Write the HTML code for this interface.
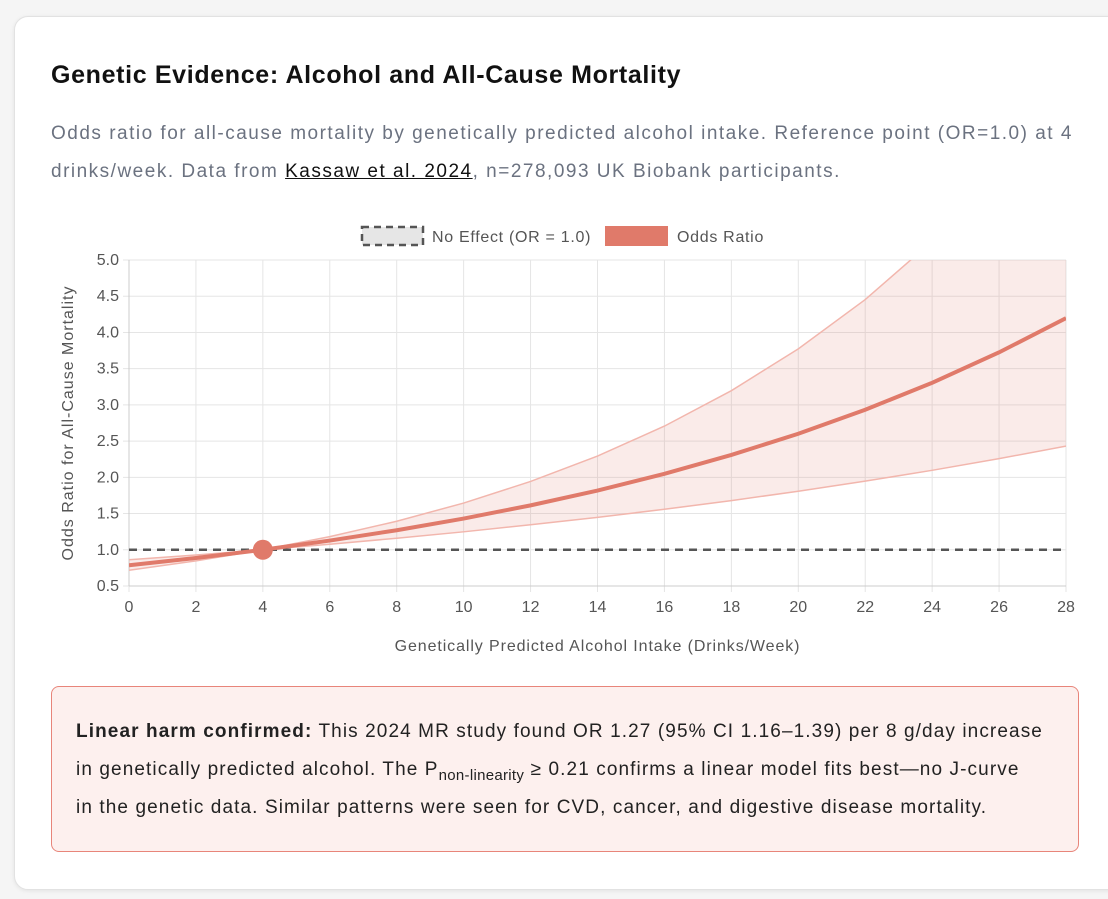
<!DOCTYPE html>
<html><head><meta charset="utf-8"><style>
body{margin:0;width:1108px;height:899px;background:#f5f5f5;font-family:"Liberation Sans",sans-serif;overflow:hidden;position:relative}
.card{position:absolute;left:14px;top:16px;width:1120px;height:872px;background:#fff;border:1px solid #e2e2e2;border-radius:14px;box-shadow:0 1px 4px rgba(0,0,0,.08)}
h1{position:absolute;left:51px;top:61px;margin:0;font-size:25px;letter-spacing:0.65px;font-weight:bold;color:#111;white-space:nowrap}
.sub{position:absolute;left:51px;top:115px;width:1040px;margin:0;font-size:19px;letter-spacing:1.5px;line-height:38px;color:#6b7280;white-space:nowrap}
.sub a{color:#111;text-decoration:underline}
.callout{position:absolute;left:51px;top:686px;width:1028px;height:166px;box-sizing:border-box;background:#fdf0ee;border:1px solid #e8857a;border-radius:8px;padding:26px 24px;font-size:19px;letter-spacing:1.1px;line-height:38px;color:#222;white-space:nowrap}
.callout sub{font-size:15px;line-height:0;letter-spacing:0.3px}
svg{position:absolute;left:0;top:0}
</style></head><body>
<div class="card"></div>
<h1>Genetic Evidence: Alcohol and All-Cause Mortality</h1>
<p class="sub">Odds ratio for all-cause mortality by genetically predicted alcohol intake. Reference point (OR=1.0) at 4<br>drinks/week. Data from <a>Kassaw et al. 2024</a>, n=278,093 UK Biobank participants.</p>
<svg id="chart" width="1108" height="680"></svg>
<div class="callout"><b>Linear harm confirmed:</b> This 2024 MR study found OR 1.27 (95% CI 1.16–1.39) per 8 g/day increase<br>in genetically predicted alcohol. The P<sub>non-linearity</sub> ≥ 0.21 confirms a linear model fits best—no J-curve<br>in the genetic data. Similar patterns were seen for CVD, cancer, and digestive disease mortality.</div>
<script>
const xs=[0,2,4,6,8,10,12,14,16,18,20,22,24,26,28];
const orMain=[0.787,0.887,1,1.127,1.270,1.431,1.613,1.818,2.049,2.309,2.602,2.933,3.305,3.725,4.198];
const orUpper=[0.862,0.928,1,1.181,1.394,1.645,1.943,2.293,2.707,3.196,3.773,4.454,5.258,6.21,7.33];
const orLower=[0.718,0.847,1,1.077,1.159,1.248,1.345,1.448,1.559,1.679,1.808,1.947,2.097,2.258,2.431];
const xTicks=[0,2,4,6,8,10,12,14,16,18,20,22,24,26,28];
const yTicks=[0.5,1.0,1.5,2.0,2.5,3.0,3.5,4.0,4.5,5.0];
const refX=4, refY=1.0;
const L=129,R=1066,T=260,B=586;
const X=v=>L+(v-0)/28*(R-L);
const Y=v=>B-(v-0.5)/4.5*(B-T);
const svg=document.getElementById('chart');
const NS='http://www.w3.org/2000/svg';
function mk(t,a,p){const e=document.createElementNS(NS,t);for(const k in a)e.setAttribute(k,a[k]);(p||svg).appendChild(e);return e;}
const defs=mk('defs',{});const cp=mk('clipPath',{id:'c'},defs);mk('rect',{x:L,y:T,width:R-L,height:B-T},cp);
xTicks.forEach(t=>{const l=mk('line',{x1:X(t),x2:X(t),y1:T,y2:B+6,stroke:'#e5e5e5'});


const tx=mk('text',{x:X(t),y:B+26,'text-anchor':'middle','font-size':16,fill:'#555'});tx.textContent=t;

});
yTicks.forEach(t=>{const l=mk('line',{x1:L-6,x2:R,y1:Y(t),y2:Y(t),stroke:'#e5e5e5'});


const tx=mk('text',{x:L-10,y:Y(t)+5,'text-anchor':'end','font-size':16,fill:'#555'});tx.textContent=t.toFixed(1);

});
mk('line',{x1:L,x2:L,y1:T,y2:B,stroke:'#ccc'});mk('line',{x1:L,x2:R,y1:B,y2:B,stroke:'#ccc'});
const g=mk('g',{'clip-path':'url(#c)'});
const pts=a=>xs.map((x,i)=>X(x)+','+Y(a[i]));
const band=mk('polygon',{points:pts(orUpper).concat(pts(orLower).reverse()).join(' '),fill:'rgba(224,122,106,0.15)'},g);


const up=mk('polyline',{points:pts(orUpper).join(' '),fill:'none',stroke:'#f2b6ad','stroke-width':1.5},g);


const lo=mk('polyline',{points:pts(orLower).join(' '),fill:'none',stroke:'#f2b6ad','stroke-width':1.5},g);


const ref=mk('line',{x1:L,x2:R,y1:Y(1),y2:Y(1),stroke:'#555','stroke-width':2.5,'stroke-dasharray':'8 6'},g);


const main=mk('polyline',{points:pts(orMain).join(' '),fill:'none',stroke:'#e07a6a','stroke-width':4},g);


const dot=mk('circle',{cx:X(refX),cy:Y(refY),r:10,fill:'#e07a6a'});


const yt=mk('text',{x:0,y:0,transform:`translate(73,${(T+B)/2}) rotate(-90)`,'text-anchor':'middle','font-size':16,'letter-spacing':1.0,fill:'#555'});yt.textContent='Odds Ratio for All-Cause Mortality';


const xt=mk('text',{x:(L+R)/2,y:651,'text-anchor':'middle','font-size':16,'letter-spacing':0.9,fill:'#555'});xt.textContent='Genetically Predicted Alcohol Intake (Drinks/Week)';


const lg1=mk('rect',{x:362,y:227,width:61,height:18,fill:'#e6e6e6',stroke:'#555','stroke-width':2.5,'stroke-dasharray':'7 5'});


const t1=mk('text',{x:432,y:242,'font-size':16,'letter-spacing':0.7,fill:'#555'});t1.textContent='No Effect (OR = 1.0)';


const lg2=mk('rect',{x:605,y:226,width:63,height:20,fill:'#e07a6a'});


const t2=mk('text',{x:677,y:242,'font-size':16,'letter-spacing':0.7,fill:'#555'});t2.textContent='Odds Ratio';


</script>
</body></html>
